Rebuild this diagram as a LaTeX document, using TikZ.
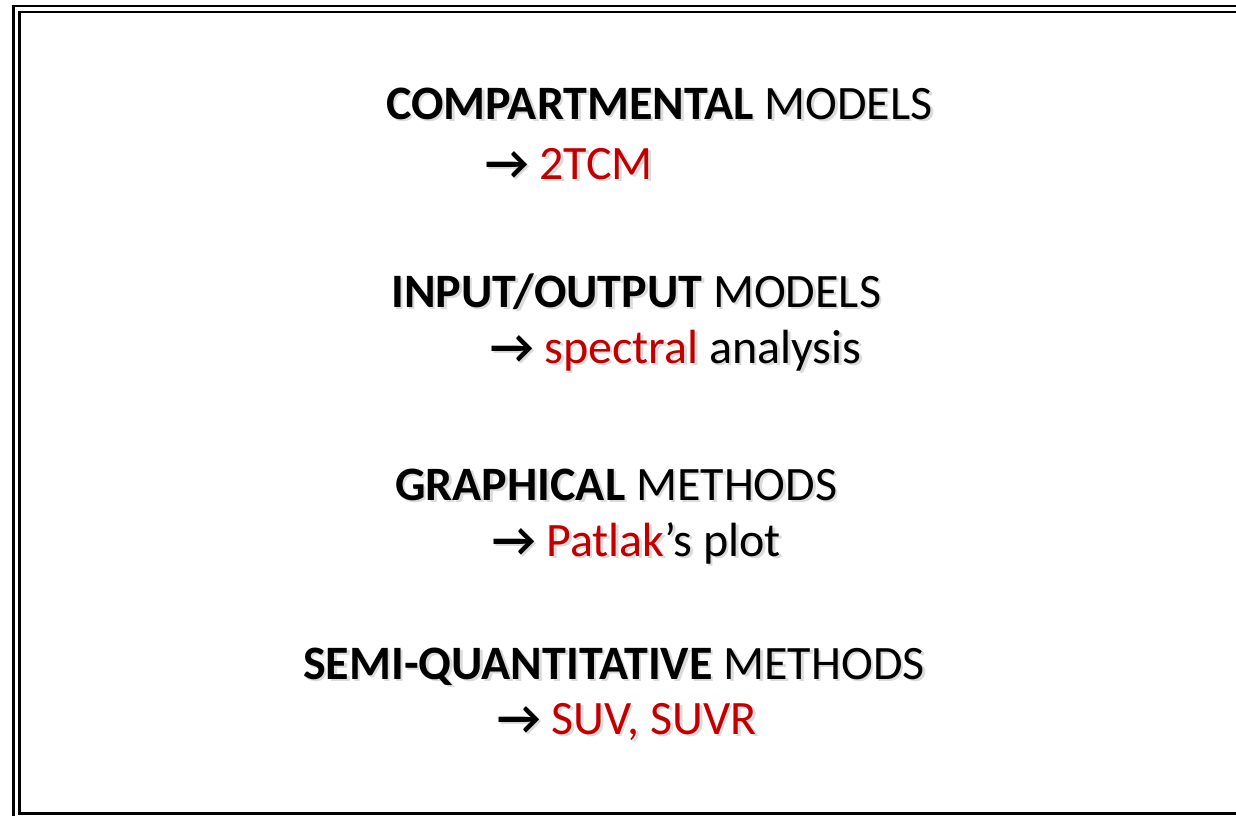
\documentclass[tikz,border=0pt]{standalone}
\usepackage{fontspec}
\setmainfont{Carlito}
\usetikzlibrary{positioning}
\definecolor{accent}{HTML}{C00000}
\newcommand{\hl}[1]{\textcolor{accent}{#1}}
\newcommand{\arr}{\textbf{→}}

\begin{document}
\begin{tikzpicture}[x=1pt,y=-1pt,
    every node/.style={anchor=base west,inner sep=0pt,font=\fontsize{48}{56}\selectfont},
    ghost/.style={text=black!14,execute at begin node={\colorlet{accent}{black!14}}}]

    \useasboundingbox (0,0) rectangle (1236,815);

    % Frame
    \draw[line width=2.5pt] (13.5,6) rectangle (1260,840);
    \draw[line width=2.5pt] (19.5,12) rectangle (1260,813.5);

    % Compartmental
    \node[ghost] at (388.5,121.5) {\textbf{COMPARTMENTAL} MODELS};
    \node (comp) at (386,119) {\textbf{COMPARTMENTAL} MODELS};
    \node[ghost] at (487.5,181.5) {\arr\ \hl{2TCM}};
    \node (tcm) at (485,179) {\arr\ \hl{2TCM}};

    % Input/output
    \node[ghost] at (393.5,309.5) {\textbf{INPUT/OUTPUT} MODELS};
    \node (io) at (391,307) {\textbf{INPUT/OUTPUT} MODELS};
    \node[ghost] at (492.5,365.5) {\arr\ \hl{spectral} analysis};
    \node (spec) at (490,363) {\arr\ \hl{spectral} analysis};

    % Graphical
    \node[ghost] at (397.5,502.5) {\textbf{GRAPHICAL} METHODS};
    \node (graph) at (395,500) {\textbf{GRAPHICAL} METHODS};
    \node[ghost] at (494.5,558.5) {\arr\ \hl{Patlak}’s plot};
    \node (patlak) at (492,556) {\arr\ \hl{Patlak}’s plot};

    % Semi-quantitative
    \node[ghost] at (305.5,681.5) {\textbf{SEMI-QUANTITATIVE} METHODS};
    \node (semi) at (303,679) {\textbf{SEMI-QUANTITATIVE} METHODS};
    \node[ghost] at (499.5,736.5) {\arr\ \hl{SUV, SUVR}};
    \node (suv) at (497,734) {\arr\ \hl{SUV, SUVR}};

  \end{tikzpicture}
\end{document}
